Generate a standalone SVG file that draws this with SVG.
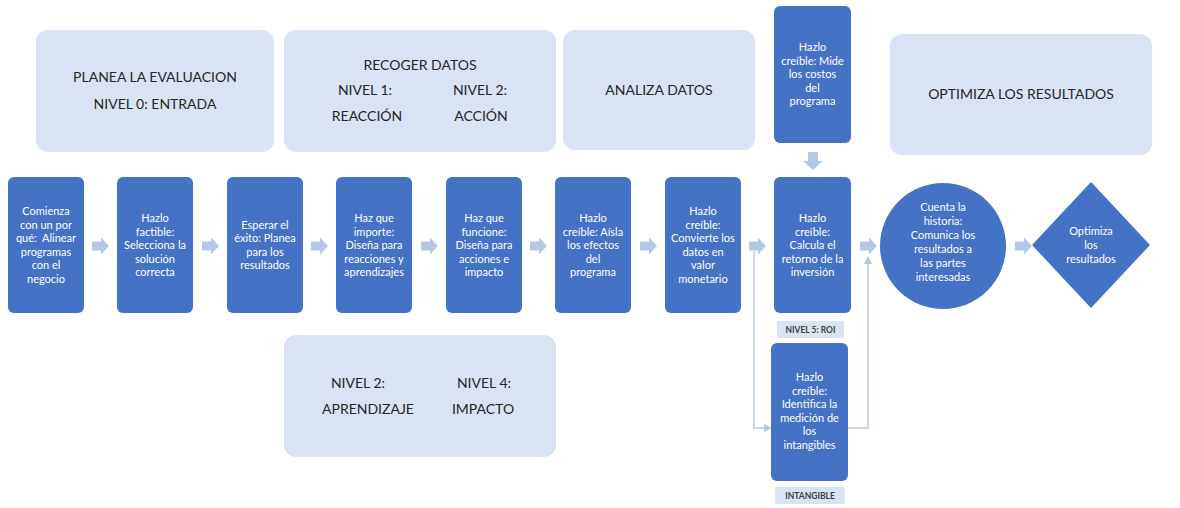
<svg xmlns="http://www.w3.org/2000/svg" xmlns:xlink="http://www.w3.org/1999/xlink" width="1180" height="508" viewBox="0 0 1180 508">
  <style>
    .panel { fill: #DAE3F3; }
    .step { fill: #4472C4; }
    .ptxt { font-family: Lato, "Liberation Sans", sans-serif; font-size: 14px; fill: #262626; text-anchor: middle; }
    .stxt { font-family: Lato, "Liberation Sans", sans-serif; font-size: 11px; fill: #FFFFFF; text-anchor: middle; white-space: pre; }
    .tag { fill: #DAE3F3; }
    .tagtxt { font-family: Lato, "Liberation Sans", sans-serif; font-size: 8.5px; font-weight: bold; fill: #404040; text-anchor: middle; }
    .link { fill: none; stroke: #B4C7E7; stroke-width: 1.5; }
    .chev { fill: #B4C7E7; }
  </style>
  <defs>
    <!-- block arrow pointing right, origin at left-middle -->
    <path id="blockR" d="M0,-4.5 H9 V-8.5 L17,0 L9,8.5 V4.5 H0 Z"/>
    <!-- block arrow pointing down, origin at top-middle -->
    <path id="blockD" d="M-5,0 H5 V9 H10 L0,18 L-10,9 H-5 Z"/>
    <marker id="tip" viewBox="0 0 8 8" refX="7" refY="4" markerWidth="8" markerHeight="8" markerUnits="userSpaceOnUse" orient="auto">
      <path d="M0,0 L8,4 L0,8 Z" fill="#B4C7E7"/>
    </marker>
  </defs>

  <rect width="1180" height="508" fill="#FFFFFF"/>

  <!-- phase panels -->
  <g id="panel-planea">
    <rect class="panel" x="36" y="30" width="238" height="122" rx="12"/>
    <text class="ptxt" x="155" y="82">PLANEA LA EVALUACION</text>
    <text class="ptxt" x="155" y="109">NIVEL 0: ENTRADA</text>
  </g>
  <g id="panel-recoger">
    <rect class="panel" x="284" y="30" width="272" height="122" rx="12"/>
    <text class="ptxt" x="420" y="70">RECOGER DATOS</text>
    <text class="ptxt" x="365" y="95">NIVEL 1:</text>
    <text class="ptxt" x="480" y="95">NIVEL 2:</text>
    <text class="ptxt" x="367" y="121">REACCIÓN</text>
    <text class="ptxt" x="481" y="121">ACCIÓN</text>
  </g>
  <g id="panel-analiza">
    <rect class="panel" x="563" y="30" width="192" height="120" rx="12"/>
    <text class="ptxt" x="659" y="95">ANALIZA DATOS</text>
  </g>
  <g id="panel-optimiza">
    <rect class="panel" x="890" y="34" width="262" height="121" rx="12"/>
    <text class="ptxt" x="1021" y="99">OPTIMIZA LOS RESULTADOS</text>
  </g>
  <g id="panel-niveles">
    <rect class="panel" x="284" y="335" width="272" height="122" rx="12"/>
    <text class="ptxt" x="358" y="388">NIVEL 2:</text>
    <text class="ptxt" x="484" y="388">NIVEL 4:</text>
    <text class="ptxt" x="368" y="414">APRENDIZAJE</text>
    <text class="ptxt" x="483" y="414">IMPACTO</text>
  </g>

  <!-- connectors -->
  <g id="connectors">
    <use xlink:href="#blockR" class="chev" x="92" y="246"/>
    <use xlink:href="#blockR" class="chev" x="202" y="246"/>
    <use xlink:href="#blockR" class="chev" x="311" y="246"/>
    <use xlink:href="#blockR" class="chev" x="421" y="246"/>
    <use xlink:href="#blockR" class="chev" x="530" y="246"/>
    <use xlink:href="#blockR" class="chev" x="640" y="246"/>
    <use xlink:href="#blockR" class="chev" x="749" y="246"/>
    <use xlink:href="#blockR" class="chev" x="860" y="246"/>
    <use xlink:href="#blockR" class="chev" x="1015" y="246"/>
    <use xlink:href="#blockD" class="chev" x="813" y="152"/>
    <path class="link" d="M754,251 V428 H771" marker-end="url(#tip)"/>
    <path class="link" d="M848,428 H868 V257" marker-end="url(#tip)"/>
  </g>

  <!-- process steps -->
  <g id="step-1">
    <rect class="step" x="8" y="177" width="76" height="136" rx="6"/>
    <text class="stxt" x="46" y="215">Comienza</text>
    <text class="stxt" x="46" y="228.5">con un por</text>
    <text class="stxt" x="46" y="242">qué:  Alinear</text>
    <text class="stxt" x="46" y="255.5">programas</text>
    <text class="stxt" x="46" y="269">con el</text>
    <text class="stxt" x="46" y="282.5">negocio</text>
  </g>
  <g id="step-2">
    <rect class="step" x="117" y="177" width="76" height="136" rx="6"/>
    <text class="stxt" x="155" y="222">Hazlo</text>
    <text class="stxt" x="155" y="235.5">factible:</text>
    <text class="stxt" x="155" y="249">Selecciona la</text>
    <text class="stxt" x="155" y="262.5">solución</text>
    <text class="stxt" x="155" y="276">correcta</text>
  </g>
  <g id="step-3">
    <rect class="step" x="227" y="177" width="76" height="136" rx="6"/>
    <text class="stxt" x="265" y="228.5">Esperar el</text>
    <text class="stxt" x="265" y="242">éxito: Planea</text>
    <text class="stxt" x="265" y="255.5">para los</text>
    <text class="stxt" x="265" y="269">resultados</text>
  </g>
  <g id="step-4">
    <rect class="step" x="336" y="177" width="76" height="136" rx="6"/>
    <text class="stxt" x="374" y="222">Haz que</text>
    <text class="stxt" x="374" y="235.5">importe:</text>
    <text class="stxt" x="374" y="249">Diseña para</text>
    <text class="stxt" x="374" y="262.5">reacciones y</text>
    <text class="stxt" x="374" y="276">aprendizajes</text>
  </g>
  <g id="step-5">
    <rect class="step" x="446" y="177" width="76" height="136" rx="6"/>
    <text class="stxt" x="484" y="222">Haz que</text>
    <text class="stxt" x="484" y="235.5">funcione:</text>
    <text class="stxt" x="484" y="249">Diseña para</text>
    <text class="stxt" x="484" y="262.5">acciones e</text>
    <text class="stxt" x="484" y="276">impacto</text>
  </g>
  <g id="step-6">
    <rect class="step" x="555" y="177" width="76" height="136" rx="6"/>
    <text class="stxt" x="593" y="222">Hazlo</text>
    <text class="stxt" x="593" y="235.5">creíble: Aísla</text>
    <text class="stxt" x="593" y="249">los efectos</text>
    <text class="stxt" x="593" y="262.5">del</text>
    <text class="stxt" x="593" y="276">programa</text>
  </g>
  <g id="step-7">
    <rect class="step" x="665" y="177" width="76" height="136" rx="6"/>
    <text class="stxt" x="703" y="215">Hazlo</text>
    <text class="stxt" x="703" y="228.5">creíble:</text>
    <text class="stxt" x="703" y="242">Convierte los</text>
    <text class="stxt" x="703" y="255.5">datos en</text>
    <text class="stxt" x="703" y="269">valor</text>
    <text class="stxt" x="703" y="282.5">monetario</text>
  </g>
  <g id="step-costos">
    <rect class="step" x="774" y="6" width="77" height="137" rx="6"/>
    <text class="stxt" x="812.5" y="51">Hazlo</text>
    <text class="stxt" x="812.5" y="64.5">creíble: Mide</text>
    <text class="stxt" x="812.5" y="78">los costos</text>
    <text class="stxt" x="812.5" y="91.5">del</text>
    <text class="stxt" x="812.5" y="105">programa</text>
  </g>
  <g id="step-8">
    <rect class="step" x="774" y="177" width="77" height="136" rx="6"/>
    <text class="stxt" x="812.5" y="222">Hazlo</text>
    <text class="stxt" x="812.5" y="235.5">creíble:</text>
    <text class="stxt" x="812.5" y="249">Calcula el</text>
    <text class="stxt" x="812.5" y="262.5">retorno de la</text>
    <text class="stxt" x="812.5" y="276">inversión</text>
  </g>
  <g id="tag-roi">
    <rect class="tag" x="777" y="321" width="67" height="17" rx="2"/>
    <text class="tagtxt" x="810.5" y="332.5">NIVEL 5: ROI</text>
  </g>
  <g id="step-intangibles">
    <rect class="step" x="771" y="343" width="77" height="138" rx="6"/>
    <text class="stxt" x="809.5" y="381">Hazlo</text>
    <text class="stxt" x="809.5" y="394.5">creíble:</text>
    <text class="stxt" x="809.5" y="408">Identifica la</text>
    <text class="stxt" x="809.5" y="421.5">medición de</text>
    <text class="stxt" x="809.5" y="435">los</text>
    <text class="stxt" x="809.5" y="448.5">intangibles</text>
  </g>
  <g id="tag-intangible">
    <rect class="tag" x="775" y="487" width="70" height="17" rx="2"/>
    <text class="tagtxt" x="810" y="498.5">INTANGIBLE</text>
  </g>
  <g id="step-historia">
    <circle class="step" cx="943" cy="246" r="63"/>
    <text class="stxt" x="943" y="211">Cuenta la</text>
    <text class="stxt" x="943" y="225">historia:</text>
    <text class="stxt" x="943" y="239">Comunica los</text>
    <text class="stxt" x="943" y="253">resultados a</text>
    <text class="stxt" x="943" y="267">las partes</text>
    <text class="stxt" x="943" y="281">interesadas</text>
  </g>
  <g id="step-optimiza">
    <path class="step" d="M1091,182 L1150,245 L1091,308 L1032,245 Z"/>
    <text class="stxt" x="1091" y="235">Optimiza</text>
    <text class="stxt" x="1091" y="249">los</text>
    <text class="stxt" x="1091" y="263">resultados</text>
  </g>
</svg>
